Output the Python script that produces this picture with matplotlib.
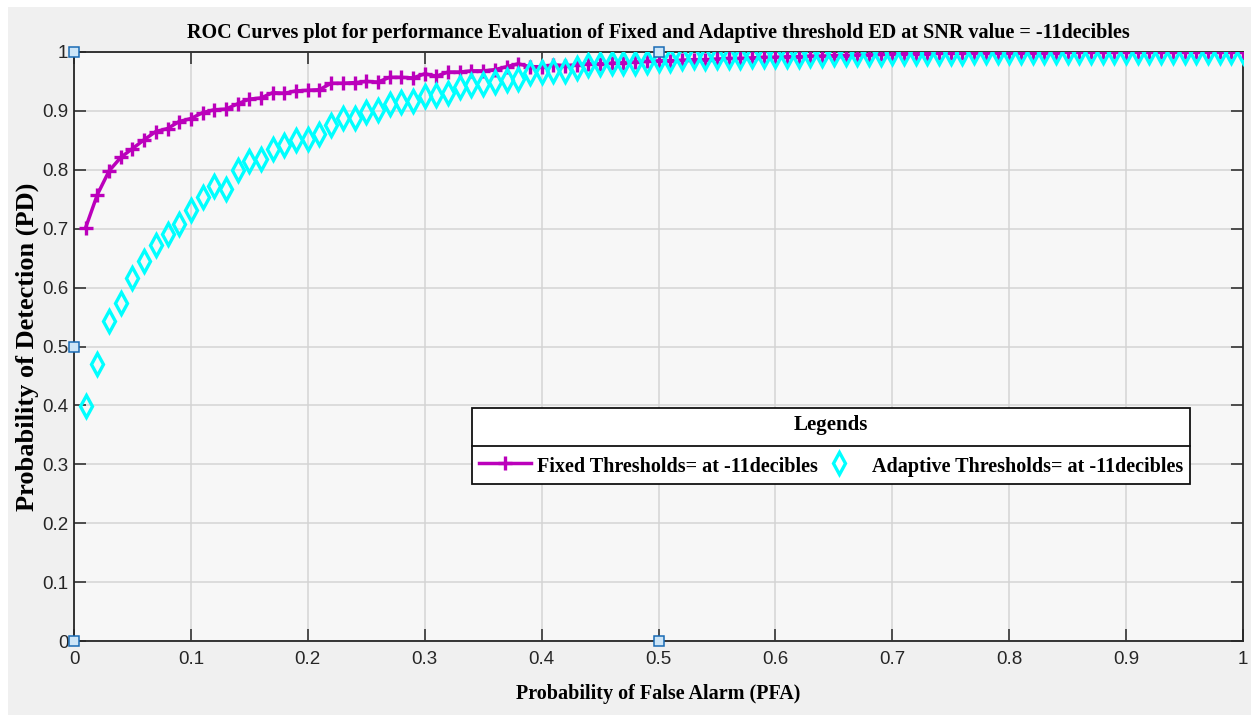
import matplotlib
matplotlib.use("Agg")
import matplotlib.pyplot as plt
from matplotlib.patches import Rectangle
from matplotlib.lines import Line2D

# ---------------- data ----------------
pfa = [0.01, 0.02, 0.03, 0.04, 0.05, 0.06, 0.07, 0.08, 0.09, 0.10,
       0.11, 0.12, 0.13, 0.14, 0.15, 0.16, 0.17, 0.18, 0.19, 0.20,
       0.21, 0.22, 0.23, 0.24, 0.25, 0.26, 0.27, 0.28, 0.29, 0.30,
       0.31, 0.32, 0.33, 0.34, 0.35, 0.36, 0.37, 0.38, 0.39, 0.40,
       0.41, 0.42, 0.43, 0.44, 0.45, 0.46, 0.47, 0.48, 0.49, 0.50,
       0.51, 0.52, 0.53, 0.54, 0.55, 0.56, 0.57, 0.58, 0.59, 0.60,
       0.61, 0.62, 0.63, 0.64, 0.65, 0.66, 0.67, 0.68, 0.69, 0.70,
       0.71, 0.72, 0.73, 0.74, 0.75, 0.76, 0.77, 0.78, 0.79, 0.80,
       0.81, 0.82, 0.83, 0.84, 0.85, 0.86, 0.87, 0.88, 0.89, 0.90,
       0.91, 0.92, 0.93, 0.94, 0.95, 0.96, 0.97, 0.98, 0.99, 1.00]

pd_fixed = [0.702, 0.758, 0.798, 0.821, 0.836, 0.851, 0.865, 0.870, 0.882, 0.887,
            0.897, 0.902, 0.903, 0.912, 0.920, 0.922, 0.931, 0.930, 0.934, 0.935,
            0.936, 0.947, 0.947, 0.948, 0.950, 0.949, 0.957, 0.957, 0.956, 0.963,
            0.959, 0.966, 0.966, 0.968, 0.968, 0.970, 0.975, 0.980, 0.975, 0.975,
            0.978, 0.977, 0.978, 0.980, 0.980, 0.981, 0.982, 0.983, 0.984, 0.985,
            0.985, 0.986, 0.987, 0.987, 0.988, 0.989, 0.989, 0.990, 0.991, 0.991,
            0.992, 0.992, 0.993, 0.993, 0.994, 0.994, 0.995, 0.995, 0.996, 0.996,
            0.997, 0.997, 0.997, 0.998, 0.998, 0.998, 0.998, 0.999, 0.999, 0.999,
            0.999, 0.999, 0.999, 0.999, 1.000, 1.000, 1.000, 1.000, 1.000, 1.000,
            1.000, 1.000, 1.000, 1.000, 1.000, 1.000, 1.000, 1.000, 1.000, 1.000]

pd_adaptive = [0.399, 0.471, 0.543, 0.574, 0.616, 0.645, 0.673, 0.691, 0.708, 0.731,
               0.754, 0.773, 0.768, 0.800, 0.815, 0.819, 0.836, 0.842, 0.851, 0.853,
               0.860, 0.876, 0.888, 0.888, 0.898, 0.901, 0.911, 0.915, 0.916, 0.925,
               0.927, 0.931, 0.941, 0.944, 0.945, 0.949, 0.952, 0.955, 0.964, 0.966,
               0.968, 0.968, 0.972, 0.978, 0.980, 0.981, 0.981, 0.982, 0.983, 0.986,
               0.986, 0.989, 0.991, 0.990, 0.991, 0.992, 0.992, 0.993, 0.993, 0.993,
               0.994, 0.994, 0.995, 0.995, 0.996, 0.996, 0.997, 0.997, 0.997, 0.998,
               0.998, 0.998, 0.999, 0.999, 0.999, 0.999, 1.000, 1.000, 1.000, 1.000,
               1.000, 1.000, 1.000, 1.000, 1.000, 1.000, 1.000, 1.000, 1.000, 1.000,
               1.000, 1.000, 1.000, 1.000, 1.000, 1.000, 1.000, 1.000, 1.000, 1.000]

xticks = [0, 0.1, 0.2, 0.3, 0.4, 0.5, 0.6, 0.7, 0.8, 0.9, 1]
xtick_labels = ["0", "0.1", "0.2", "0.3", "0.4", "0.5", "0.6", "0.7", "0.8", "0.9", "1"]
yticks = [0, 0.1, 0.2, 0.3, 0.4, 0.5, 0.6, 0.7, 0.8, 0.9, 1]
ytick_labels = ["0", "0.1", "0.2", "0.3", "0.4", "0.5", "0.6", "0.7", "0.8", "0.9", "1"]

# MATLAB edit-handle squares seen on the axes border
handle_x = [0, 0, 0, 0.5, 0.5]
handle_y = [1, 0.5, 0, 1, 0]

title_text = "ROC Curves plot for performance Evaluation of Fixed and Adaptive threshold ED at SNR value = -11decibles"
xlabel_text = "Probability of False Alarm (PFA)"
ylabel_text = "Probability of Detection (PD)"
label_fixed = "Fixed Thresholds= at -11decibles"
label_adaptive = "Adaptive Thresholds= at -11decibles"
legend_title = "Legends"

# ---------------- figure ----------------
W, H, DPI = 1251, 715, 100
fig = plt.figure(figsize=(W / DPI, H / DPI), dpi=DPI, facecolor="white")
fig.patches.append(Rectangle((8 / W, 0), 1, (H - 7) / H, transform=fig.transFigure,
                             facecolor="#f0f0f0", edgecolor="none", zorder=-10))

ax_l, ax_r, ax_t, ax_b = 74, 1243, 52, 641
ax = fig.add_axes([ax_l / W, (H - ax_b) / H, (ax_r - ax_l) / W, (ax_b - ax_t) / H])
ax.set_facecolor("#f7f7f7")

serif_family = ["Liberation Serif", "DejaVu Serif"]
serif_bold = dict(family=serif_family, weight="bold")
sans = ["Liberation Sans Narrow", "Liberation Sans", "DejaVu Sans"]

magenta = "#bb00bb"
cyan = "#00ffff"

ax.plot(pfa, pd_fixed, color=magenta, lw=2.5, marker="+", ms=10, mew=2.4,
        label=label_fixed, zorder=3)
ax.plot(pfa, pd_adaptive, color=cyan, lw=0, marker="d", ms=11, mew=2.4,
        mfc="none", mec=cyan, label=label_adaptive, zorder=4)

ax.set_xlim(0, 1)
ax.set_ylim(0, 1)
ax.set_xticks(xticks)
ax.set_xticklabels(xtick_labels)
ax.set_yticks(yticks)
ax.set_yticklabels(ytick_labels)
for lab in ax.get_xticklabels() + ax.get_yticklabels():
    lab.set_family(sans)
    lab.set_fontsize(13.5)
    lab.set_color("#262626")
ax.tick_params(direction="in", length=8.5, width=1.1, top=True, right=True,
               color="#262626")
ax.tick_params(axis="x", pad=7)
ax.tick_params(axis="y", pad=4)
ax.grid(True, color="#d4d4d4", lw=1.1)
ax.set_axisbelow(True)
for s in ax.spines.values():
    s.set_color("#262626")
    s.set_linewidth(1.3)

ax.plot(handle_x, handle_y, ls="none", marker="s", ms=7, mfc="#cde5f7",
        mec="#1a6bb5", mew=1.1, clip_on=False, zorder=10)

ax.set_title(title_text, fontsize=14.5, pad=10, **serif_bold)
ax.set_xlabel(xlabel_text, fontsize=14.5, labelpad=12, **serif_bold)
ax.set_ylabel(ylabel_text, fontsize=19, labelpad=2, **serif_bold)

# legend
lx0 = (472 - ax_l) / (ax_r - ax_l)
ly0 = (ax_b - 484) / (ax_b - ax_t)
lw_ = (1190 - 472) / (ax_r - ax_l)
lh_ = (484 - 407) / (ax_b - ax_t)
leg = ax.legend(loc="lower left", bbox_to_anchor=(lx0, ly0, lw_, lh_), mode="expand",
                ncol=2, title=legend_title,
                prop=dict(family=serif_family, weight="bold", size=14.5),
                title_fontproperties=dict(family=serif_family, weight="bold", size=15),
                frameon=True, fancybox=False, framealpha=1, facecolor="white",
                edgecolor="#111111", borderpad=0.35, labelspacing=0.95,
                handlelength=2.6, handletextpad=0.3, handleheight=1.3,
                borderaxespad=0, columnspacing=1.0)
leg.get_frame().set_linewidth(1.3)
leg.set_zorder(20)

fig.canvas.draw()
renderer = fig.canvas.get_renderer()
lbb = leg.get_window_extent(renderer)
tbb = leg.get_title().get_window_extent(renderer)
ebb = leg.get_texts()[0].get_window_extent(renderer)
ysep = (tbb.y0 + ebb.y1) / 2.0
inv = fig.transFigure.inverted()
(fx0, fy), (fx1, _) = inv.transform([(lbb.x0, ysep), (lbb.x1, ysep)])
fig.add_artist(Line2D([fx0, fx1], [fy, fy], transform=fig.transFigure,
                      color="#111111", lw=1.3, zorder=30))

fig.savefig("out.png", dpi=DPI, facecolor=fig.get_facecolor())
